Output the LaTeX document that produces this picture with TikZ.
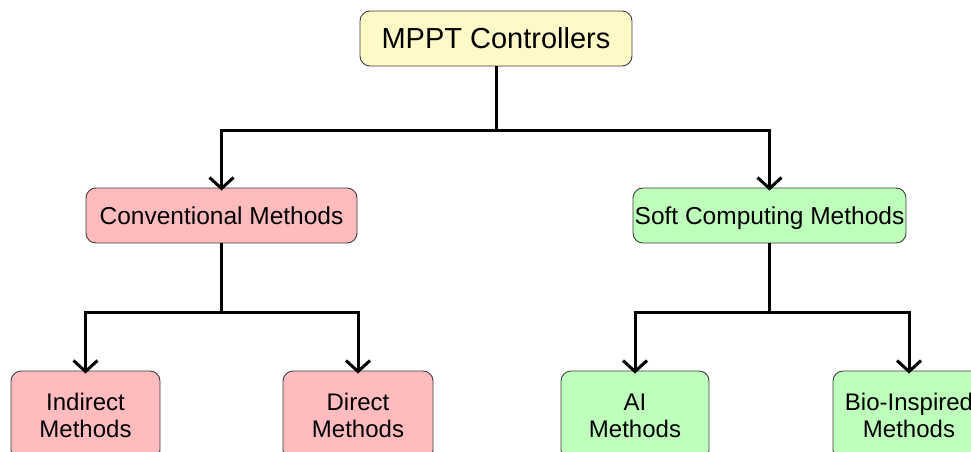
\documentclass[tikz,border=0pt]{standalone}
\usepackage{fontspec}
\setmainfont{Liberation Sans}
\usetikzlibrary{arrows.meta}
\definecolor{yelfill}{RGB}{255,249,200}
\definecolor{pinkfill}{RGB}{255,187,190}
\definecolor{greenfill}{RGB}{190,255,188}
\definecolor{edge}{RGB}{60,60,60}
\tikzset{
  box/.style={draw=edge, line width=0.9pt, rounded corners=10pt, inner sep=0pt, align=center},
  oneline/.style={text height=#1, text depth=0pt},
  conn/.style={line width=3pt, line join=miter},
  arr/.style={conn, -{Straight Barb[length=11pt,width=24pt,line width=3pt]}},
}
\begin{document}
\begin{tikzpicture}[x=1pt,y=-1pt]
\useasboundingbox (0,0) rectangle (971,452);
\clip (0,0) rectangle (971,452);
\fill[white] (0,0) rectangle (971,452);
% nodes
\node[box, oneline=20.8pt, fill=yelfill, minimum width=272pt, minimum height=55pt, font=\fontsize{29}{34}\selectfont] (root) at (496,38.5) {MPPT Controllers};
\node[box, oneline=17.5pt, fill=pinkfill, minimum width=271pt, minimum height=55pt, font=\fontsize{24.5}{29}\selectfont] (conv) at (221.5,215.5) {Conventional Methods};
\node[box, oneline=17.5pt, fill=greenfill, minimum width=273pt, minimum height=55pt, font=\fontsize{24.5}{29}\selectfont] (soft) at (769.5,215.5) {Soft Computing Methods};
\node[box, fill=pinkfill, minimum width=149pt, minimum height=89pt, font=\fontsize{24}{27}\selectfont] (ind) at (85.5,415.5) {Indirect\\Methods};
\node[box, fill=pinkfill, minimum width=150pt, minimum height=89pt, font=\fontsize{24}{27}\selectfont] (dir) at (358,415.5) {Direct\\Methods};
\node[box, fill=greenfill, minimum width=148pt, minimum height=89pt, font=\fontsize{24}{27}\selectfont] (ai) at (635,415.5) {AI\\Methods};
\node[box, fill=greenfill, minimum width=152pt, minimum height=89pt, font=\fontsize{24}{27}\selectfont] (bio) at (909,415.5) {Bio-Inspired\\Methods};
% connectors
\coordinate (j1) at (496,130);
\coordinate (j2) at (221.5,312);
\coordinate (j3) at (769.5,312);
\draw[conn] (root.south) -- (j1);
\draw[arr] (j1) -| ([yshift=-3pt]conv.north);
\draw[arr] (j1) -| ([yshift=-3pt]soft.north);
\draw[conn] (conv.south) -- (j2);
\draw[arr] (j2) -| ([yshift=-3pt]ind.north);
\draw[arr] (j2) -| ([yshift=-3pt]dir.north);
\draw[conn] (soft.south) -- (j3);
\draw[arr] (j3) -| ([yshift=-3pt]ai.north);
\draw[arr] (j3) -| ([yshift=-3pt]bio.north);
\end{tikzpicture}
\end{document}
